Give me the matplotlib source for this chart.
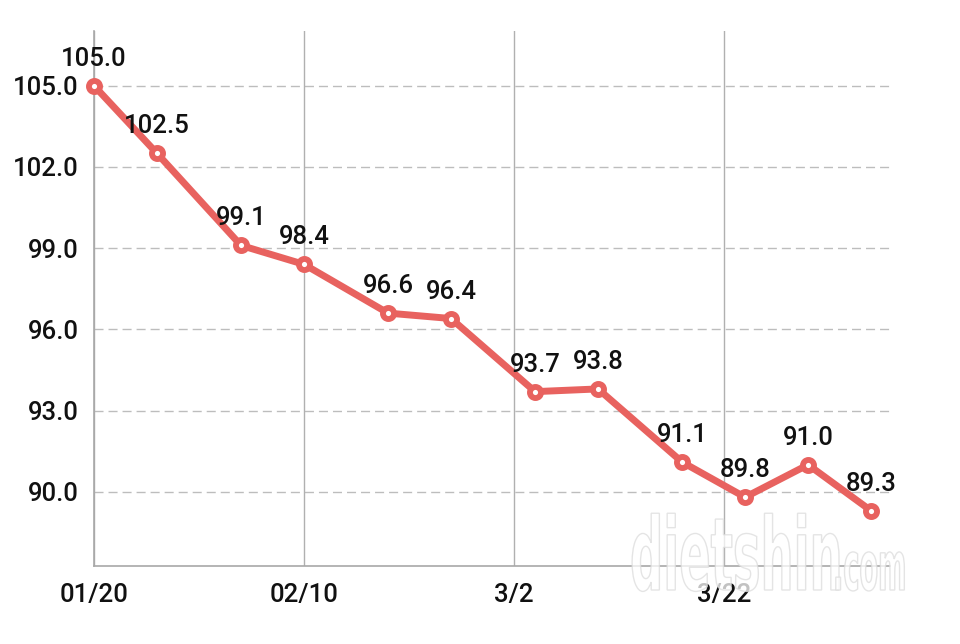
import matplotlib
matplotlib.use('Agg')
import matplotlib.pyplot as plt
from matplotlib.textpath import TextPath
from matplotlib.patches import PathPatch
from matplotlib.transforms import Affine2D, IdentityTransform
from matplotlib.font_manager import FontProperties

# Data
days = [0, 6, 14, 20, 28, 34, 42, 48, 56, 62, 68, 74]
weights = [105.0, 102.5, 99.1, 98.4, 96.6, 96.4, 93.7, 93.8, 91.1, 89.8, 91.0, 89.3]
tick_days = [0, 20, 40, 60]
tick_labels = ['01/20', '02/10', '3/2', '3/22']
y_ticks = [90.0, 93.0, 96.0, 99.0, 102.0, 105.0]

plt.rcParams['font.family'] = ['Roboto', 'DejaVu Sans']

W, H = 960, 644
fig = plt.figure(figsize=(W / 100, H / 100), dpi=100)
ax = fig.add_axes([94 / W, 78 / H, (890 - 94) / W, (566 - 31) / H])

line_color = '#E8625F'
grid_color = '#BDBDBD'

ax.set_xlim(0, 75.8)
ax.set_ylim(87.26, 107.02)

# grid lines
for yt in y_ticks:
    ax.axhline(yt, color=grid_color, lw=1.0, linestyle=(0, (6.5, 3.6)), zorder=1)
for xt in tick_days:
    ax.axvline(xt, color='#B0B0B0', lw=1.0, zorder=1)

for s in ['top', 'right']:
    ax.spines[s].set_visible(False)
for s in ['left', 'bottom']:
    ax.spines[s].set_color('#A8A8A8')
    ax.spines[s].set_linewidth(1.2)

ax.set_xticks(tick_days)
ax.set_xticklabels(tick_labels)
ax.set_yticks(y_ticks)
ax.set_yticklabels([f'{v:.1f}' for v in y_ticks])
ax.tick_params(axis='y', length=0, pad=11, labelsize=18.5, labelcolor='#111111')
ax.tick_params(axis='x', length=0, pad=12, labelsize=18.5, labelcolor='#111111')
for lbl in ax.get_xticklabels() + ax.get_yticklabels():
    lbl.set_fontweight('medium')

ax.plot(days, weights, color=line_color, lw=5, marker='o', ms=8, mfc='white',
        mec=line_color, mew=4.2, zorder=4, clip_on=False, solid_joinstyle='round')

for d, w in zip(days, weights):
    ax.annotate(f'{w:.1f}', (d, w), xytext=(0, 14.4), textcoords='offset points',
                ha='center', va='baseline', fontsize=18.5, color='#111111', zorder=5,
                fontweight='medium', annotation_clip=False)

# watermark
fp = FontProperties(family='DejaVu Sans', weight='bold')
tp1 = TextPath((0, 0), 'dietshin', size=101, prop=fp)
tp2 = TextPath((0, 0), '.com', size=68, prop=fp)
t1 = Affine2D().scale(0.46, 1.0).translate(630, 54)
t2 = Affine2D().scale(0.4, 1.0).translate(833, 54)
for tp, tr in [(tp1, t1), (tp2, t2)]:
    patch = PathPatch(tr.transform_path(tp), facecolor='white', edgecolor='#DCDCDC',
                      lw=1.0, alpha=0.75, transform=IdentityTransform(), zorder=10)
    fig.patches.append(patch)

fig.savefig('out.png', dpi=100, facecolor='white')
